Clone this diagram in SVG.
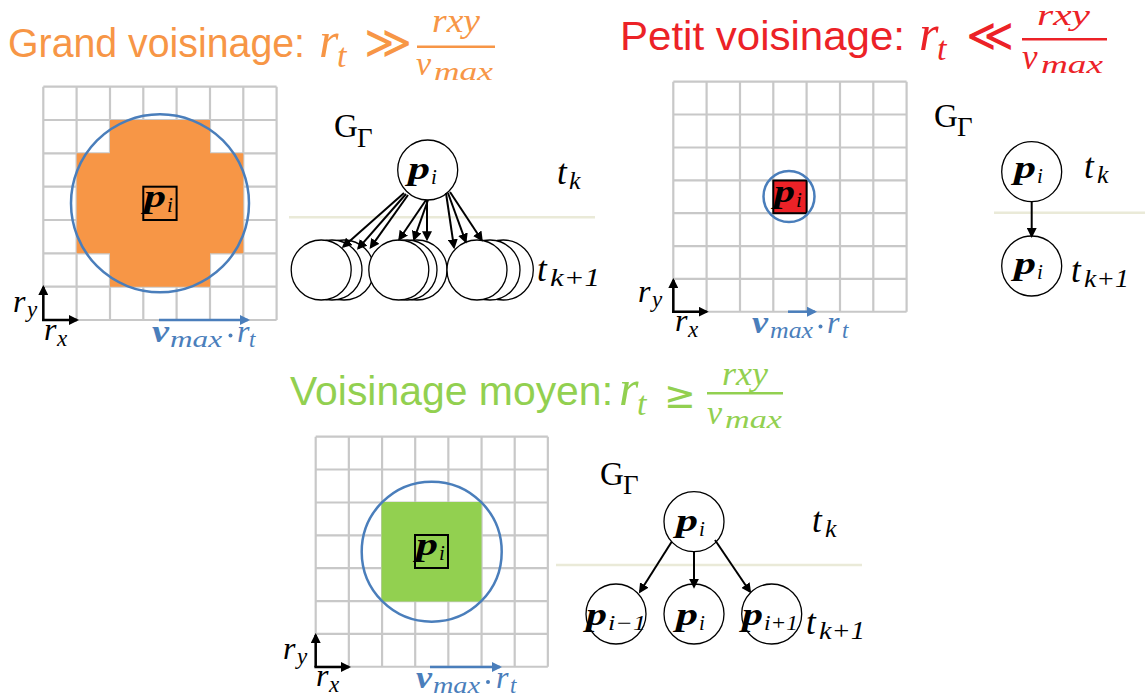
<svg xmlns="http://www.w3.org/2000/svg" xmlns:xlink="http://www.w3.org/1999/xlink" width="1145" height="700" viewBox="0 0 1145 700">
<style>
.grid{fill:none;stroke:#C8C8C8;stroke-width:2.2}
.nd{fill:#fff;stroke:#000;stroke-width:1.3}
.m{font-family:"Liberation Serif","Times New Roman",serif;font-style:italic}
.pb{font-family:"Liberation Serif","Times New Roman",serif;font-style:italic;font-weight:bold}
.gg{font-family:"Liberation Serif","Times New Roman",serif}
.ttl{font-family:"Liberation Sans",Arial,sans-serif;font-size:40px}
.sym{font-family:"DejaVu Sans",sans-serif}
.edge{stroke:#000;stroke-width:2;fill:none;marker-end:url(#ah)}
.ax{stroke:#000;stroke-width:2.5;fill:none;marker-end:url(#ah)}
.bl{stroke:#4A7EBB;stroke-width:2.5;fill:none;marker-end:url(#ahb)}
.sep{stroke:#EAEAD8;stroke-width:2.5}
.rc{fill:none;stroke:#4A7EBB;stroke-width:2.5}
.or{fill:#F79646}.rd{fill:#EC2227}.gr{fill:#92D050}.bt{fill:#4A7EBB}
</style>
<defs>
<marker id="ah" viewBox="0 0 10 10" refX="8" refY="5" markerWidth="10" markerHeight="10" markerUnits="userSpaceOnUse" orient="auto"><path d="M0,0L10,5L0,10z" fill="#000"/></marker>
<marker id="ahb" viewBox="0 0 10 10" refX="8" refY="5" markerWidth="10" markerHeight="10" markerUnits="userSpaceOnUse" orient="auto"><path d="M0,0L10,5L0,10z" fill="#4A7EBB"/></marker>
<path id="gridp" d="M0,0H233.3M0,33.3H233.3M0,66.7H233.3M0,100H233.3M0,133.3H233.3M0,166.7H233.3M0,200H233.3M0,233.3H233.3M0,0V233.3M33.3,0V233.3M66.7,0V233.3M100,0V233.3M133.3,0V233.3M166.7,0V233.3M200,0V233.3M233.3,0V233.3"/>
</defs>
<rect width="1145" height="700" fill="#fff"/>

<!-- Titles -->
<g id="title-grand" class="or">
<text class="ttl" x="8" y="57" textLength="297" lengthAdjust="spacingAndGlyphs">Grand voisinage:</text>
<text class="m" x="319" y="57" font-size="50">r</text>
<text class="m" x="337" y="67" font-size="34">t</text>
<text class="sym" x="364" y="58" font-size="46">≫</text>
<rect x="417" y="45.5" width="78" height="2.5"/>
<text class="m" x="432" y="32" font-size="33" textLength="48" lengthAdjust="spacingAndGlyphs">rxy</text>
<text class="m" x="416" y="75" font-size="34">v</text>
<text class="m" x="434" y="80" font-size="25" textLength="59" lengthAdjust="spacingAndGlyphs">max</text>
</g>
<g id="title-petit" class="rd">
<text class="ttl" x="620" y="50" textLength="285" lengthAdjust="spacingAndGlyphs">Petit voisinage:</text>
<text class="m" x="919" y="50" font-size="50">r</text>
<text class="m" x="937" y="60" font-size="34">t</text>
<text class="sym" x="966" y="51" font-size="46">≪</text>
<rect x="1022" y="38" width="85" height="2.5"/>
<text class="m" x="1037" y="25" font-size="30" textLength="53" lengthAdjust="spacingAndGlyphs">rxy</text>
<text class="m" x="1022" y="69" font-size="35">v</text>
<text class="m" x="1041" y="73" font-size="26" textLength="62" lengthAdjust="spacingAndGlyphs">max</text>
</g>
<g id="title-moyen" class="gr">
<text class="ttl" x="290" y="405" textLength="323" lengthAdjust="spacingAndGlyphs">Voisinage moyen:</text>
<text class="m" x="619" y="405" font-size="50">r</text>
<text class="m" x="637" y="415" font-size="34">t</text>
<text class="sym" x="664" y="408" font-size="38">≥</text>
<rect x="707" y="392" width="76" height="2.5"/>
<text class="m" x="722" y="385" font-size="33" textLength="46" lengthAdjust="spacingAndGlyphs">rxy</text>
<text class="m" x="707" y="424" font-size="34">v</text>
<text class="m" x="725" y="428" font-size="25" textLength="57" lengthAdjust="spacingAndGlyphs">max</text>
</g>

<!-- Grid 1 -->
<g id="grid-grand">
<use xlink:href="#gridp" class="grid" transform="translate(43.3,86.7)"/>
<path class="or" d="M110,120H210V153.3H243.3V253.3H210V286.7H110V253.3H76.7V153.3H110Z"/>
<circle class="rc" cx="160" cy="203.3" r="89"/>
<rect x="143.3" y="186.7" width="33.3" height="33.3" fill="none" stroke="#000" stroke-width="2"/>
<text class="pb" x="144" y="207" font-size="31" textLength="22" lengthAdjust="spacingAndGlyphs">p</text>
<text class="m" x="167" y="212" font-size="21">i</text>
<path class="ax" d="M43.3,320V287"/>
<path class="ax" d="M42,320H77"/>
<text class="m" x="13" y="312" font-size="32">r</text>
<text class="m" x="27" y="317" font-size="23">y</text>
<text class="m" x="44" y="340" font-size="32">r</text>
<text class="m" x="57" y="346" font-size="23">x</text>
<path class="bl" d="M159,320H248"/>
<text class="pb bt" x="152" y="342" font-size="32" textLength="17" lengthAdjust="spacingAndGlyphs">v</text>
<text class="m bt" x="170" y="347" font-size="24" textLength="52" lengthAdjust="spacingAndGlyphs">max</text>
<circle class="bt" cx="230.5" cy="335.5" r="2"/>
<text class="m bt" x="237" y="342" font-size="32">r</text>
<text class="m bt" x="249" y="347" font-size="23">t</text>
</g>

<!-- Grid 2 -->
<g id="grid-petit">
<use xlink:href="#gridp" class="grid" transform="translate(673.3,81.7) scale(1,0.986)"/>
<rect x="773.3" y="180.5" width="33.3" height="32.7" fill="#EC2227" stroke="#000" stroke-width="2"/>
<circle class="rc" cx="789" cy="196.5" r="25.5"/>
<text class="pb" x="774" y="202" font-size="31" textLength="21" lengthAdjust="spacingAndGlyphs">p</text>
<text class="m" x="796" y="207" font-size="21">i</text>
<path class="ax" d="M673.3,311.7V280"/>
<path class="ax" d="M672,311.7H706.7"/>
<text class="m" x="638" y="302" font-size="32">r</text>
<text class="m" x="652" y="307" font-size="23">y</text>
<text class="m" x="675" y="331" font-size="32">r</text>
<text class="m" x="688" y="337" font-size="23">x</text>
<path class="bl" d="M788,311.7H815"/>
<text class="pb bt" x="752" y="333" font-size="32" textLength="16" lengthAdjust="spacingAndGlyphs">v</text>
<text class="m bt" x="770" y="338" font-size="24" textLength="43" lengthAdjust="spacingAndGlyphs">max</text>
<circle class="bt" cx="820.5" cy="326.5" r="2"/>
<text class="m bt" x="827" y="333" font-size="32">r</text>
<text class="m bt" x="842" y="338" font-size="23">t</text>
</g>

<!-- Grid 3 -->
<g id="grid-moyen">
<use xlink:href="#gridp" class="grid" transform="translate(315.7,436.7) scale(0.995,0.986)"/>
<rect class="gr" x="381.5" y="502" width="100" height="99.5"/>
<circle class="rc" cx="431.7" cy="551.7" r="70"/>
<rect x="415" y="535" width="33" height="33" fill="none" stroke="#000" stroke-width="2"/>
<text class="pb" x="416" y="555" font-size="31" textLength="22" lengthAdjust="spacingAndGlyphs">p</text>
<text class="m" x="439" y="560" font-size="21">i</text>
<path class="ax" d="M315.7,667V635"/>
<path class="ax" d="M314.4,667H349"/>
<text class="m" x="283" y="659" font-size="32">r</text>
<text class="m" x="297" y="664" font-size="23">y</text>
<text class="m" x="316" y="686" font-size="32">r</text>
<text class="m" x="329" y="692" font-size="23">x</text>
<path class="bl" d="M430,667H500"/>
<text class="pb bt" x="416" y="688" font-size="32" textLength="16" lengthAdjust="spacingAndGlyphs">v</text>
<text class="m bt" x="433" y="693" font-size="24" textLength="47" lengthAdjust="spacingAndGlyphs">max</text>
<circle class="bt" cx="488" cy="682" r="2"/>
<text class="m bt" x="496" y="688" font-size="32">r</text>
<text class="m bt" x="510" y="693" font-size="23">t</text>
</g>

<!-- Graph 1 -->
<g id="graph-grand">
<line class="sep" x1="289" y1="217.3" x2="595" y2="217.3"/>
<text class="gg" x="334" y="137" font-size="33">G</text>
<text class="gg" x="357" y="147" font-size="27">Γ</text>
<text class="m" x="557" y="184" font-size="35">t</text>
<text class="m" x="569" y="189" font-size="26">k</text>
<text class="m" x="537" y="281" font-size="35">t</text>
<text class="m" x="550" y="286" font-size="26" textLength="50" lengthAdjust="spacingAndGlyphs">k+1</text>
</g>
<g id="n1-top"><circle class="nd" cx="427.7" cy="170" r="30"/><text class="pb" x="408" y="179" font-size="31" textLength="22" lengthAdjust="spacingAndGlyphs">p</text><text class="m" x="431" y="184" font-size="21">i</text></g>
<g id="n1-g1">
<circle class="nd" cx="344" cy="270" r="30"/><circle class="nd" cx="332" cy="270" r="30"/><circle class="nd" cx="321.2" cy="270" r="30"/>
</g>
<g id="n1-g2">
<circle class="nd" cx="417" cy="270" r="30"/><circle class="nd" cx="407" cy="270" r="30"/><circle class="nd" cx="398.8" cy="270" r="30"/>
</g>
<g id="n1-g3">
<circle class="nd" cx="503.3" cy="270" r="30"/><circle class="nd" cx="490" cy="270" r="30"/><circle class="nd" cx="477" cy="270" r="30"/>
</g>

<!-- Graph 2 -->
<g id="graph-petit">
<line class="sep" x1="994" y1="212.7" x2="1145" y2="212.7"/>
<text class="gg" x="934" y="127" font-size="33">G</text>
<text class="gg" x="957" y="136" font-size="27">Γ</text>
<text class="m" x="1084" y="178" font-size="35">t</text>
<text class="m" x="1097" y="183" font-size="26">k</text>
<text class="m" x="1071" y="282" font-size="35">t</text>
<text class="m" x="1084" y="287" font-size="26" textLength="45" lengthAdjust="spacingAndGlyphs">k+1</text>
</g>
<g id="n2-top"><circle class="nd" cx="1031.7" cy="171.7" r="30"/><text class="pb" x="1014" y="178" font-size="31" textLength="22" lengthAdjust="spacingAndGlyphs">p</text><text class="m" x="1037" y="183" font-size="21">i</text></g>
<g id="n2-bot"><circle class="nd" cx="1031.7" cy="266" r="30"/><text class="pb" x="1014" y="274" font-size="31" textLength="22" lengthAdjust="spacingAndGlyphs">p</text><text class="m" x="1037" y="279" font-size="21">i</text></g>

<!-- Graph 3 -->
<g id="graph-moyen">
<line class="sep" x1="556" y1="565" x2="862" y2="565"/>
<text class="gg" x="600" y="485" font-size="33">G</text>
<text class="gg" x="623" y="494" font-size="27">Γ</text>
<text class="m" x="812" y="532" font-size="35">t</text>
<text class="m" x="825" y="537" font-size="26">k</text>
<text class="m" x="806" y="634" font-size="35">t</text>
<text class="m" x="819" y="639" font-size="26" textLength="46" lengthAdjust="spacingAndGlyphs">k+1</text>
</g>
<g id="n3-top"><circle class="nd" cx="694" cy="521.7" r="30"/><text class="pb" x="676" y="531" font-size="31" textLength="22" lengthAdjust="spacingAndGlyphs">p</text><text class="m" x="699" y="536" font-size="21">i</text></g>
<g id="n3-left"><circle class="nd" cx="616" cy="614" r="30"/><text class="pb" x="586" y="625" font-size="31" textLength="21" lengthAdjust="spacingAndGlyphs">p</text><text class="m" x="608" y="630" font-size="21" textLength="38" lengthAdjust="spacingAndGlyphs">i−1</text></g>
<g id="n3-mid"><circle class="nd" cx="694" cy="614" r="30"/><text class="pb" x="676" y="625" font-size="31" textLength="22" lengthAdjust="spacingAndGlyphs">p</text><text class="m" x="699" y="630" font-size="21">i</text></g>
<g id="n3-right"><circle class="nd" cx="771.7" cy="614" r="30"/><text class="pb" x="742" y="625" font-size="31" textLength="21" lengthAdjust="spacingAndGlyphs">p</text><text class="m" x="764" y="630" font-size="21" textLength="34" lengthAdjust="spacingAndGlyphs">i+1</text></g>

<!-- Connectors -->
<g id="connectors">
<path class="edge" d="M404,193L343.3,246.7"/>
<path class="edge" d="M406,194L358.3,248.3"/>
<path class="edge" d="M408,195L370.7,247.3"/>
<path class="edge" d="M426,200L399.3,239.3"/>
<path class="edge" d="M428,200L414,239.3"/>
<path class="edge" d="M427,200L427,239.3"/>
<path class="edge" d="M446,193L454,247.3"/>
<path class="edge" d="M448,193L465.7,241.7"/>
<path class="edge" d="M450,192L481.7,240"/>
<path class="edge" d="M1031.7,201.7V236"/>
<path class="edge" d="M671.7,541.7L640,591.7"/>
<path class="edge" d="M694,551.7V586.7"/>
<path class="edge" d="M715,540L750,591.7"/>
</g>
</svg>
